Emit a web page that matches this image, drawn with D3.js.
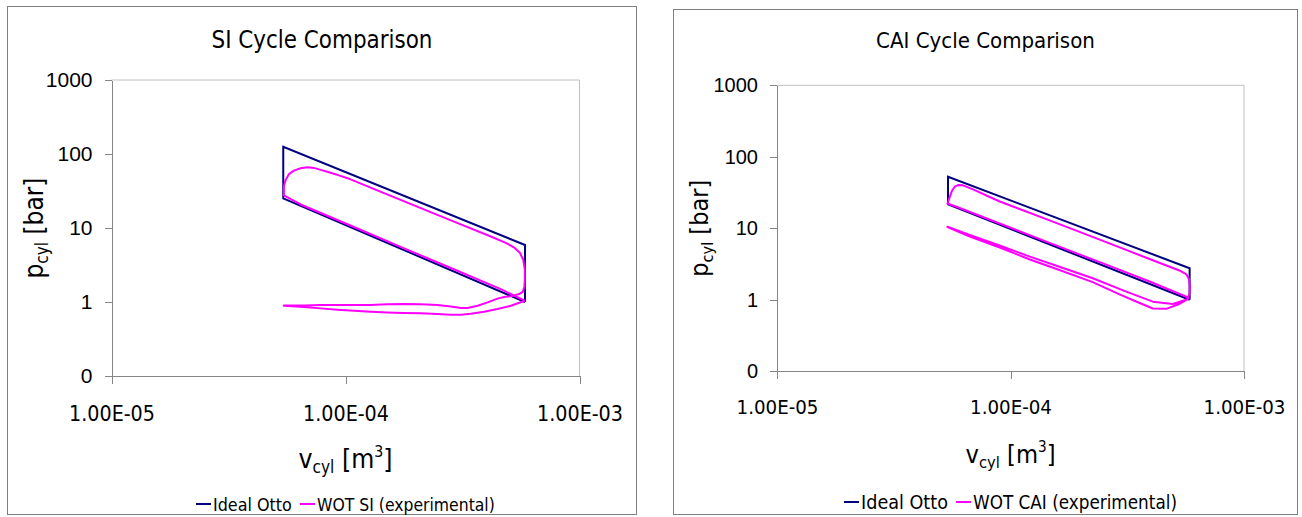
<!DOCTYPE html>
<html>
<head>
<meta charset="utf-8">
<script src="https://cdn.jsdelivr.net/npm/d3@7"></script>
<style>
body { margin: 0; background: #fff; }
svg { display: block; }
</style>
</head>
<body>
<svg id="chart" width="1302" height="517"></svg>
<script>
var xTicks = [1e-5, 1e-4, 1e-3];
var xTickLabels = ['1.00E-05', '1.00E-04', '1.00E-03'];
var yTicks = [0.1, 1, 10, 100, 1000];
var yTickLabels = ['0', '1', '10', '100', '1000'];

// [V m3, p bar]
var siOtto = [[5.85e-4, 1.0], [5.42e-5, 25.2], [5.42e-5, 125], [5.85e-4, 5.9], [5.85e-4, 1.0]];
var siWot = [
	[5.84e-4, 1.04], [4.61e-4, 1.49], [2.82e-4, 2.88], [1.72e-4, 5.56], [1.05e-4, 10.8], [6.43e-5, 20.8], [5.45e-5, 27.6],
	[5.45e-5, 36.3], [5.55e-5, 44.7], [5.73e-5, 53.4], [6.02e-5, 59.7], [6.43e-5, 64.3], [6.87e-5, 66.4], [7.33e-5, 64.9],
	[7.83e-5, 61.0], [8.50e-5, 56.8], [9.23e-5, 52.2], [1.02e-4, 47.1],
	[1.28e-4, 35.1], [1.72e-4, 24.0], [2.31e-4, 16.4], [3.11e-4, 11.2], [4.18e-4, 7.68], [4.84e-4, 6.31], [5.24e-4, 5.49],
	[5.56e-4, 4.63], [5.75e-4, 3.72], [5.84e-4, 2.73], [5.84e-4, 2.0], [5.81e-4, 1.61], [5.73e-4, 1.38], [5.50e-4, 1.27], [5.09e-4, 1.20],
	[4.76e-4, 1.17], [4.46e-4, 1.11], [4.05e-4, 0.99], [3.67e-4, 0.89], [3.32e-4, 0.83], [3.11e-4, 0.83], [2.82e-4, 0.87],
	[2.47e-4, 0.91], [2.10e-4, 0.93], [1.78e-4, 0.94], [1.51e-4, 0.93], [1.28e-4, 0.91], [1.09e-4, 0.91], [9.23e-5, 0.91],
	[7.83e-5, 0.91], [6.65e-5, 0.90], [5.45e-5, 0.90],
	[5.45e-5, 0.89], [6.65e-5, 0.856], [7.83e-5, 0.82], [9.23e-5, 0.787], [1.09e-4, 0.763], [1.28e-4, 0.74], [1.51e-4, 0.724],
	[1.78e-4, 0.711], [2.10e-4, 0.702], [2.47e-4, 0.689], [2.82e-4, 0.674], [3.11e-4, 0.674], [3.43e-4, 0.695], [3.91e-4, 0.74],
	[4.46e-4, 0.804], [5.09e-4, 0.89], [5.84e-4, 1.04]
];

var caiOtto = [[5.85e-4, 1.0], [5.4e-5, 21.7], [5.4e-5, 52.7], [5.85e-4, 2.76], [5.85e-4, 1.0]];
var caiWot = [
	[5.84e-4, 1.06], [3.94e-4, 1.80], [2.41e-4, 3.36], [1.47e-4, 6.25], [8.99e-5, 11.67], [6.06e-5, 19.2], [5.37e-5, 22.2],
	[5.42e-5, 24.1], [5.50e-5, 27.7], [5.62e-5, 33.6], [5.77e-5, 38.2], [5.96e-5, 40.3], [6.26e-5, 39.9], [6.91e-5, 35.1],
	[8.99e-5, 23.7], [1.47e-4, 12.9], [2.41e-4, 6.95], [3.94e-4, 3.72], [5.29e-4, 2.57], [5.67e-4, 2.26], [5.81e-4, 1.95],
	[5.85e-4, 1.61], [5.85e-4, 1.29], [5.78e-4, 1.09], [5.74e-4, 1.02],
	[4.95e-4, 0.874], [4.07e-4, 0.941], [3.13e-4, 1.30], [2.25e-4, 2.00], [1.62e-4, 2.90], [1.21e-4, 4.01], [9.29e-5, 5.53],
	[6.69e-5, 8.06], [5.37e-5, 10.5],
	[5.37e-5, 10.4], [6.69e-5, 7.68], [8.99e-5, 5.39], [1.21e-4, 3.66], [1.62e-4, 2.61], [2.25e-4, 1.77], [2.93e-4, 1.19],
	[3.45e-4, 0.947], [4.07e-4, 0.756], [4.64e-4, 0.748], [5.29e-4, 0.874], [5.74e-4, 1.02]
];

var TAHOMA = '"DejaVu Sans Condensed", "DejaVu Sans", sans-serif';
var ARIAL = '"Liberation Sans", Arial, sans-serif';

var svg = d3.select('#chart');

// scale the font so the text spans the width
function fit(t, target) {
	var fs = parseFloat(t.style('font-size'));
	var w = t.node().getComputedTextLength();
	if (w > 0) t.style('font-size', (fs * target / w) + 'px');
}

function drawPanel(cfg) {
	var g = svg.append('g');

	g.append('rect')
		.attr('x', cfg.box[0]).attr('y', cfg.box[1])
		.attr('width', cfg.box[2]).attr('height', cfg.box[3])
		.attr('fill', '#fff').attr('stroke', '#808080');

	var title = g.append('text')
		.attr('x', cfg.box[0] + cfg.box[2] / 2).attr('y', cfg.titleY)
		.attr('text-anchor', 'middle')
		.style('font-family', TAHOMA).style('font-size', '23px')
		.text(cfg.title);
	fit(title, cfg.titleW);

	var x = d3.scaleLog().domain([1e-5, 1e-3]).range([cfg.left, cfg.right]);
	var y = d3.scaleLog().domain([0.1, 1000]).range([cfg.bottom, cfg.top]);

	// plot frame top / right
	g.append('path')
		.attr('d', 'M' + cfg.left + ',' + cfg.top + 'H' + cfg.right + 'V' + cfg.bottom)
		.attr('fill', 'none').attr('stroke', '#c0c0c0');

	var yAxis = d3.axisLeft(y)
		.tickValues(yTicks)
		.tickFormat(function(d, i) { return yTickLabels[i]; })
		.tickSize(7).tickSizeOuter(0).tickPadding(12);
	var ya = g.append('g').attr('transform', 'translate(' + cfg.left + ',0)').call(yAxis);
	ya.selectAll('text')
		.style('font-family', ARIAL).style('font-size', cfg.tickFont + 'px').attr('fill', '#000');

	var xAxis = d3.axisBottom(x)
		.tickValues(xTicks)
		.tickFormat(function(d, i) { return xTickLabels[i]; })
		.tickSize(8).tickSizeOuter(0);
	var xa = g.append('g').attr('transform', 'translate(0,' + cfg.bottom + ')').call(xAxis);
	xa.selectAll('text')
		.attr('y', cfg.xTickBase - cfg.bottom).attr('dy', 0)
		.style('font-family', TAHOMA).style('font-size', '21px').attr('fill', '#000')
		.each(function() { fit(d3.select(this), cfg.xTickW); });

	[ya, xa].forEach(function(a) {
		a.selectAll('path, line').attr('stroke', '#868686').attr('shape-rendering', 'crispEdges');
	});

	var line = d3.line()
		.x(function(d) { return x(d[0]); })
		.y(function(d) { return y(d[1]); });

	g.append('path').datum(cfg.otto).attr('d', line)
		.attr('fill', 'none').attr('stroke', '#000080').attr('stroke-width', 2);
	g.append('path').datum(cfg.wot).attr('d', line)
		.attr('fill', 'none').attr('stroke', '#ff00ff').attr('stroke-width', 2)
		.attr('stroke-linejoin', 'round');

	// axis titles
	var cx = (cfg.left + cfg.right) / 2, cy = (cfg.top + cfg.bottom) / 2;
	var yl = g.append('text')
		.attr('transform', 'translate(' + cfg.yLabelX + ',' + cy + ') rotate(-90)')
		.attr('text-anchor', 'middle')
		.style('font-family', TAHOMA).style('font-size', '26px');
	yl.append('tspan').text('p');
	yl.append('tspan').attr('font-size', '0.65em').attr('dy', '0.3em').text('cyl');
	yl.append('tspan').attr('dy', '-0.2em').text(' [bar]');
	fit(yl, cfg.yLabelW);

	var xl = g.append('text')
		.attr('x', cx).attr('y', cfg.xLabelY)
		.attr('text-anchor', 'middle')
		.style('font-family', TAHOMA).style('font-size', '26px');
	xl.append('tspan').text('v');
	xl.append('tspan').attr('font-size', '0.65em').attr('dy', '0.3em').text('cyl');
	xl.append('tspan').attr('dy', '-0.2em').text(' [m');
	xl.append('tspan').attr('font-size', '0.6em').attr('dy', '-0.7em').text('3');
	xl.append('tspan').attr('dy', '0.42em').text(']');
	fit(xl, cfg.xLabelW);

	// legend
	var leg = g.append('g');
	var items = [
		{name: 'Ideal Otto', color: '#000080', w: cfg.legendW[0]},
		{name: cfg.wotName, color: '#ff00ff', w: cfg.legendW[1]}
	];
	var pos = 0;
	items.forEach(function(it, i) {
		if (i > 0) pos += 8;
		leg.append('line').attr('x1', pos).attr('x2', pos + 15)
			.attr('y1', cfg.legendLineY).attr('y2', cfg.legendLineY)
			.attr('stroke', it.color).attr('stroke-width', 2);
		var t = leg.append('text').attr('x', pos + 17).attr('y', cfg.legendY)
			.style('font-family', TAHOMA).style('font-size', '17px')
			.text(it.name);
		fit(t, it.w);
		pos += 17 + it.w;
	});
	leg.attr('transform', 'translate(' + (cx - pos / 2) + ',0)');
}

drawPanel({
	box: [7.5, 6.5, 629, 508], title: 'SI Cycle Comparison', titleY: 48, titleW: 221,
	left: 111.5, right: 579.5, top: 80, bottom: 376,
	tickFont: 21, xTickBase: 421, xTickW: 86,
	yLabelX: 43, yLabelW: 101, xLabelY: 468, xLabelW: 94,
	legendY: 511, legendLineY: 504, legendW: [79, 178],
	otto: siOtto, wot: siWot, wotName: 'WOT SI (experimental)'
});

drawPanel({
	box: [673.5, 9.5, 624, 505], title: 'CAI Cycle Comparison', titleY: 48, titleW: 219,
	left: 777, right: 1244, top: 85.3, bottom: 371.3,
	tickFont: 20, xTickBase: 414, xTickW: 82,
	yLabelX: 708, yLabelW: 97, xLabelY: 463, xLabelW: 90,
	legendY: 509, legendLineY: 502, legendW: [87, 204],
	otto: caiOtto, wot: caiWot, wotName: 'WOT CAI (experimental)'
});
</script>
</body>
</html>
